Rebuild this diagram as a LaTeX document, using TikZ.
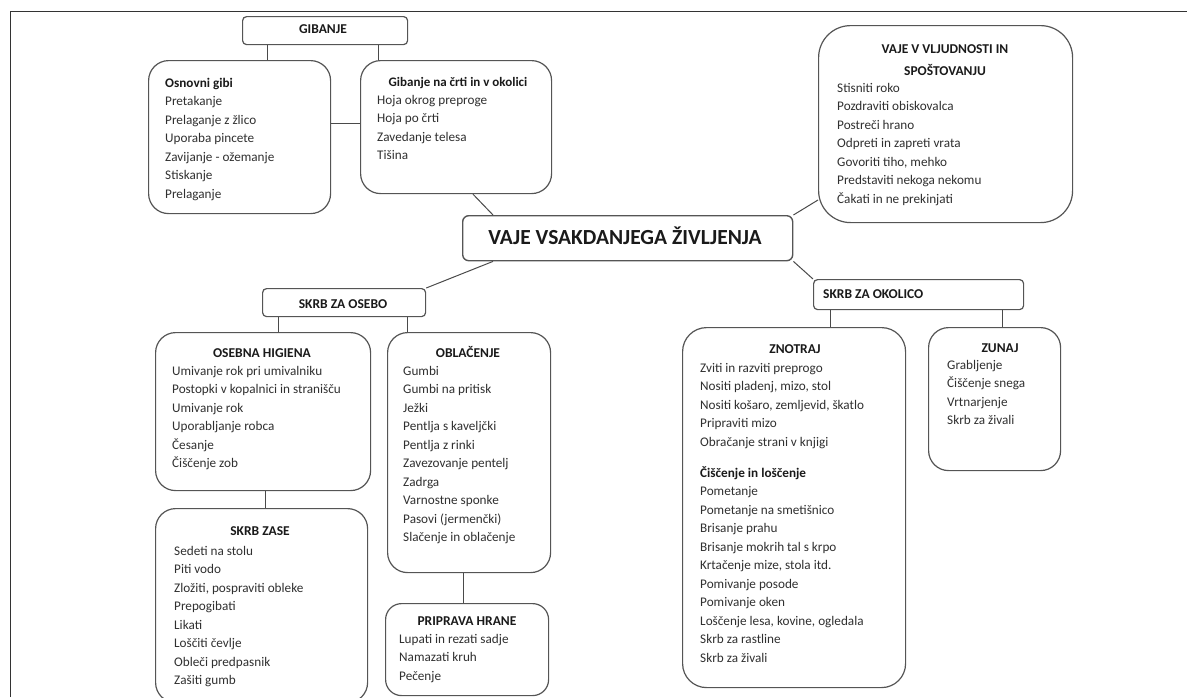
\documentclass[tikz,border=0pt]{standalone}
\usepackage{fontspec}
\setmainfont{Carlito}
\definecolor{boxc}{HTML}{555555}
\definecolor{linec}{HTML}{4A4A4A}
\definecolor{itemc}{HTML}{303030}
\definecolor{headc}{HTML}{1A1A1A}
\newcommand{\itemlist}[1]{\begin{tabular}[t]{@{}l@{}}#1\end{tabular}}
\tikzset{
  box/.style={draw=boxc, line width=1.2pt, rounded corners=#1, inner sep=0pt, fill=white, anchor=north west},
  box/.default=20pt,
  lst/.style={inner sep=0pt, anchor=base west, text=itemc, font=\fontsize{13.2}{18.5}\selectfont},
  head/.style={inner sep=0pt, anchor=base, text=headc, font=\fontsize{13.5}{15}\selectfont\bfseries},
  conn/.style={draw=linec, line width=1pt},
  frame/.style={draw=black!80, line width=1pt}
}
\begin{document}
\begin{tikzpicture}[x=1pt,y=-1pt]
\useasboundingbox (0,0) rectangle (1187,697);
\draw[frame] (10,697) -- (10,11) -- (1187,11);

% boxes
\node[box=4pt, minimum width=165pt, minimum height=28pt] (gib) at (242,16) {};
\node[box, minimum width=182pt, minimum height=153pt] (osn) at (148,60) {};
\node[box, minimum width=191pt, minimum height=133pt] (gnc) at (360,60) {};
\node[box=32pt, minimum width=254pt, minimum height=197pt] (vlj) at (818,25) {};
\node[box=6pt, minimum width=330pt, minimum height=45pt, line width=1.4pt] (main) at (462,215) {};
\node[box=4pt, minimum width=163pt, minimum height=28pt] (oseb) at (262,288) {};
\node[box=4pt, minimum width=210pt, minimum height=30pt] (okol) at (813,279) {};
\node[box, minimum width=215pt, minimum height=158pt] (hig) at (155,332) {};
\node[box, minimum width=163pt, minimum height=240pt] (obl) at (387,332) {};
\node[box, minimum width=212pt, minimum height=194pt] (zase) at (155,508) {};
\node[box=16pt, minimum width=163pt, minimum height=92pt] (hrana) at (385,603) {};
\node[box=24pt, minimum width=223pt, minimum height=360pt] (znot) at (682,327) {};
\node[box, minimum width=132pt, minimum height=143pt] (zun) at (928,327) {};

% connectors
\draw[conn] (267,0 |- gib.south) -- (267,0 |- osn.north);
\draw[conn] (378,0 |- gib.south) -- (378,0 |- gnc.north);
\draw[conn] (osn.east |- 0,123) -- (gnc.west |- 0,123);
\draw[conn] (473,0 |- gnc.south) -- (493,0 |- main.north);
\draw[conn] (main.north east) -- (vlj.west |- 0,200);
\draw[conn] (493,0 |- main.south) -- (oseb.north east);
\draw[conn] (main.south east) -- (okol.north west);
\draw[conn] (278,0 |- oseb.south) -- (278,0 |- hig.north);
\draw[conn] (407,0 |- oseb.south) -- (407,0 |- obl.north);
\draw[conn] (265,0 |- hig.south) -- (265,0 |- zase.north);
\draw[conn] (463,0 |- obl.south) -- (463,0 |- hrana.north);
\draw[conn] (830,0 |- okol.south) -- (830,0 |- znot.north);
\draw[conn] (1002,0 |- okol.south) -- (1002,0 |- zun.north);

% texts
\node[head] (gibT) at (323,33) {GIBANJE};
\node[lst] (osnT) at (165,87) {\itemlist{\textcolor{headc}{\bfseries Osnovni gibi}\\ Pretakanje\\ Prelaganje z žlico\\ Uporaba pincete\\ Zavijanje - ožemanje\\ Stiskanje\\ Prelaganje}};
\node[head, font=\fontsize{13}{15}\selectfont\bfseries] (gncH) at (458,86) {Gibanje na črti in v okolici};
\node[lst] (gncT) at (377,104) {\itemlist{Hoja okrog preproge\\ Hoja po črti\\ Zavedanje telesa\\ Tišina}};
\node[head] (vljH1) at (945,53) {VAJE V VLJUDNOSTI IN};
\node[head] (vljH2) at (945,75) {SPOŠTOVANJU};
\node[lst] (vljT) at (837,92) {\itemlist{Stisniti roko\\ Pozdraviti obiskovalca\\ Postreči hrano\\ Odpreti in zapreti vrata\\ Govoriti tiho, mehko\\ Predstaviti nekoga nekomu\\ Čakati in ne prekinjati}};
\node[head, font=\fontsize{21.5}{24}\selectfont\bfseries] (mainT) at (625,244) {VAJE VSAKDANJEGA ŽIVLJENJA};
\node[head] (osebT) at (343,308) {SKRB ZA OSEBO};
\node[head, anchor=base west] (okolT) at (823,298) {SKRB ZA OKOLICO};
\node[head] (higH) at (262,357) {OSEBNA HIGIENA};
\node[lst] (higT) at (172,375) {\itemlist{Umivanje rok pri umivalniku\\ Postopki v kopalnici in stranišču\\ Umivanje rok\\ Uporabljanje robca\\ Česanje\\ Čiščenje zob}};
\node[head] (oblH) at (468,357) {OBLAČENJE};
\node[lst] (oblT) at (403,375) {\itemlist{Gumbi\\ Gumbi na pritisk\\ Ježki\\ Pentlja s kaveljčki\\ Pentlja z rinki\\ Zavezovanje pentelj\\ Zadrga\\ Varnostne sponke\\ Pasovi (jermenčki)\\ Slačenje in oblačenje}};
\node[head] (zaseH) at (260,535) {SKRB ZASE};
\node[lst] (zaseT) at (174,555) {\itemlist{Sedeti na stolu\\ Piti vodo\\ Zložiti, pospraviti obleke\\ Prepogibati\\ Likati\\ Loščiti čevlje\\ Obleči predpasnik\\ Zašiti gumb}};
\node[head] (hranaH) at (467,625) {PRIPRAVA HRANE};
\node[lst] (hranaT) at (399,643) {\itemlist{Lupati in rezati sadje\\ Namazati kruh\\ Pečenje}};
\node[head] (znotH) at (795,353) {ZNOTRAJ};
\node[lst] (znotT) at (700,372) {\itemlist{Zviti in razviti preprogo\\ Nositi pladenj, mizo, stol\\ Nositi košaro, zemljevid, škatlo\\ Pripraviti mizo\\ Obračanje strani v knjigi\\[12.5pt] \textcolor{headc}{\bfseries Čiščenje in loščenje}\\ Pometanje\\ Pometanje na smetišnico\\ Brisanje prahu\\ Brisanje mokrih tal s krpo\\ Krtačenje mize, stola itd.\\ Pomivanje posode\\ Pomivanje oken\\ Loščenje lesa, kovine, ogledala\\ Skrb za rastline\\ Skrb za živali}};
\node[head] (zunH) at (1000,352) {ZUNAJ};
\node[lst] (zunT) at (947,369) {\itemlist{Grabljenje\\ Čiščenje snega\\ Vrtnarjenje\\ Skrb za živali}};
\end{tikzpicture}
\end{document}
